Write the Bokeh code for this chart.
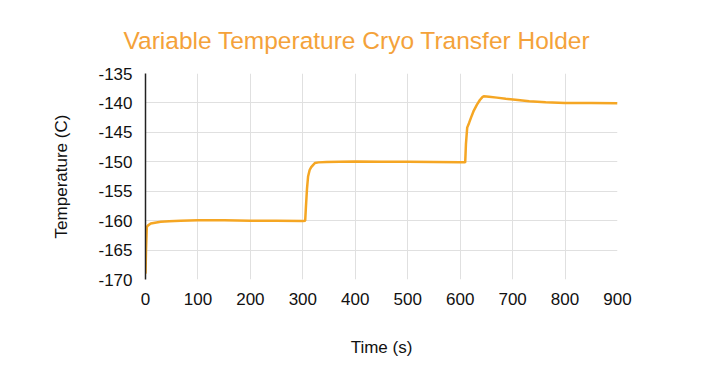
from bokeh.plotting import figure
from bokeh.models import FixedTicker, Range1d, Title
from bokeh.embed import file_html
from bokeh.resources import INLINE

title_text = "Variable Temperature Cryo Transfer Holder"
x_label = "Time (s)"
y_label = "Temperature (C)"

x_ticks = [0, 100, 200, 300, 400, 500, 600, 700, 800, 900]
y_ticks = [-170, -165, -160, -155, -150, -145, -140, -135]

time_s = [0, 1, 2.5, 5, 10, 18, 29, 45, 67, 100, 150, 200, 250, 300, 304.5,
          306, 308, 310, 313, 316, 319, 323, 330, 345, 370, 400, 450, 500,
          550, 600, 609.6, 611, 613.4, 617, 620.7, 626, 632, 637.6, 642, 645,
          655, 670, 687, 710, 731.6, 763, 800, 850, 900]
temp_c = [-169.0, -165.0, -161.1, -160.8, -160.5, -160.35, -160.2, -160.1, -160.0,
          -159.95, -159.95, -160.0, -160.0, -160.05, -160.0,
          -157.5, -154.5, -152.5, -151.4, -150.9, -150.6, -150.2, -150.1, -150.05,
          -150.0, -149.95, -150.0, -150.0, -150.05, -150.1, -150.1, -147.0, -144.2,
          -143.4, -142.5, -141.3, -140.3, -139.5, -139.05, -138.85,
          -138.95, -139.1, -139.3, -139.5, -139.7, -139.9, -140.0, -140.0, -140.05]

LINE = "#f5a623"
TITLE_C = "#f4a23a"
FONT = "Liberation Sans"

p = figure(width=706, height=365, output_backend="svg", toolbar_location=None,
           x_range=Range1d(0, 900), y_range=Range1d(-170, -135),
           min_border_left=145, min_border_right=89, min_border_top=73,
           min_border_bottom=86)

p.line(time_s, temp_c, line_color=LINE, line_width=2.5)

p.title = Title(text=title_text, align="left", text_color=TITLE_C,
                text_font=FONT, text_font_size="24.5px", text_font_style="normal",
                standoff=40, offset=-22)

p.outline_line_color = None
p.background_fill_color = "white"
p.border_fill_color = "white"

p.xaxis.ticker = FixedTicker(ticks=x_ticks)
p.yaxis.ticker = FixedTicker(ticks=y_ticks)
p.xaxis.major_label_overrides = {t: str(t) for t in x_ticks}
p.yaxis.major_label_overrides = {t: str(t) for t in y_ticks}

for ax in (p.xaxis[0], p.yaxis[0]):
    ax.major_tick_line_color = None
    ax.minor_tick_line_color = None
    ax.major_tick_out = 0
    ax.major_tick_in = 0
    ax.minor_tick_out = 0
    ax.major_label_text_font = FONT
    ax.major_label_text_font_size = "17px"
    ax.major_label_text_color = "#111111"
    ax.axis_label_text_font = FONT
    ax.axis_label_text_font_size = "17px"
    ax.axis_label_text_font_style = "normal"
    ax.axis_label_text_color = "#111111"

p.xaxis.axis_line_color = None
p.xaxis.axis_label = x_label
p.xaxis.major_label_standoff = 13
p.xaxis.axis_label_standoff = 30

p.yaxis.axis_line_color = "#222222"
p.yaxis.axis_line_width = 1.5
p.yaxis.axis_label = y_label
p.yaxis.major_label_standoff = 13
p.yaxis.axis_label_standoff = 24

p.xgrid.grid_line_color = "#e0e0e0"
p.ygrid.grid_line_color = "#e0e0e0"
p.xgrid.grid_line_width = 1
p.ygrid.grid_line_width = 1

open("out.html", "w").write(file_html(p, INLINE))
